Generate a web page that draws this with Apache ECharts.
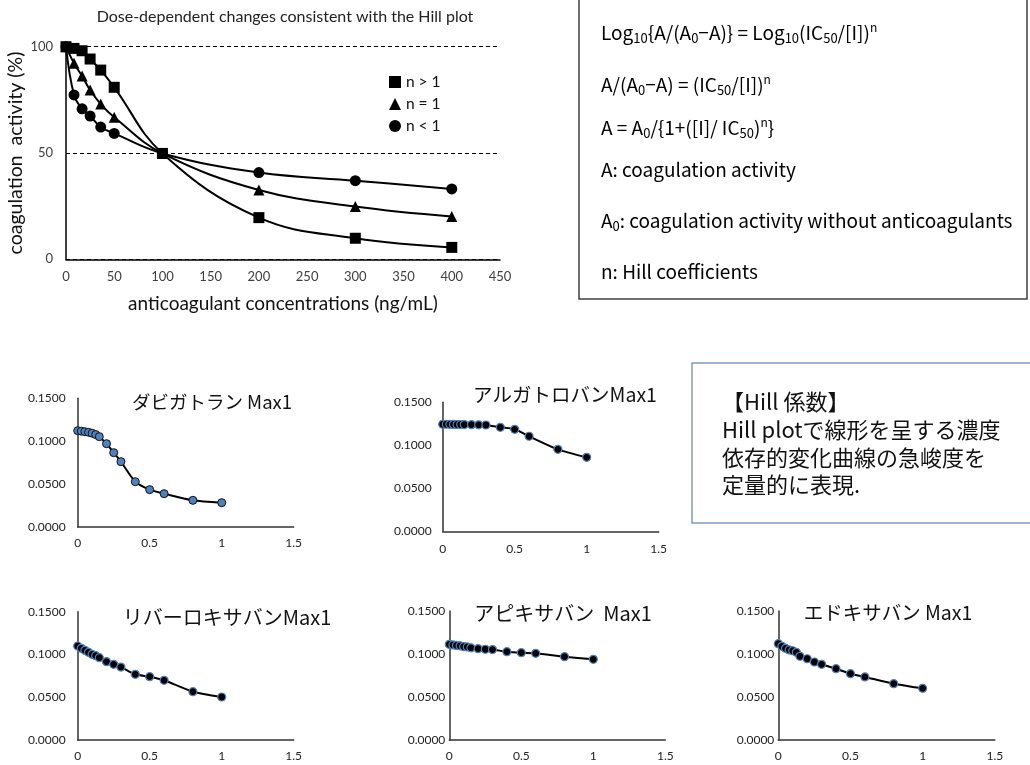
<!DOCTYPE html>
<html>
<head>
<meta charset="utf-8">
<script src="https://cdn.jsdelivr.net/npm/echarts@6/dist/echarts.min.js"></script>
<style>
html,body{margin:0;padding:0;background:#fff;}
#c{width:1030px;height:765px;}
</style>
</head>
<body>
<div id="c"></div>
<script>
// ---- Hill plot (top-left) ----
const hillX = [0, 8.3, 16.7, 25, 36, 50, 100, 200, 300, 400];
const nGt1 = [100, 99.2, 98.1, 94.2, 89.0, 80.9, 49.8, 19.6, 9.9, 5.6];
const nEq1 = [100, 92.2, 86.2, 79.6, 73.0, 66.8, 49.8, 32.6, 24.8, 20.1];
const nLt1 = [100, 77.3, 70.8, 67.4, 62.2, 59.2, 49.8, 40.8, 37.0, 33.1];
const hillNames = ['n > 1', 'n = 1', 'n < 1'];
const hillXTicks = [0, 50, 100, 150, 200, 250, 300, 350, 400, 450];
const hillYTicks = [0, 50, 100];

// ---- drug curves (Max1) ----
const doseX = [0, 0.025, 0.05, 0.075, 0.1, 0.125, 0.15, 0.2, 0.25, 0.3, 0.4, 0.5, 0.6, 0.8, 1];
const dabigatran = [0.1122, 0.1116, 0.1110, 0.1103, 0.1092, 0.1076, 0.1052, 0.0970, 0.0865, 0.0760, 0.0526, 0.0433, 0.0386, 0.0308, 0.0281];
const argatroban = [0.1245, 0.1245, 0.1244, 0.1243, 0.1242, 0.1242, 0.1241, 0.1240, 0.1238, 0.1236, 0.1209, 0.1186, 0.1105, 0.0953, 0.0860];
const rivaroxaban = [0.1099, 0.1072, 0.1048, 0.1025, 0.1002, 0.0986, 0.0962, 0.0916, 0.0885, 0.0853, 0.0768, 0.0740, 0.0698, 0.0565, 0.0503];
const apixaban = [0.1113, 0.1105, 0.1100, 0.1095, 0.1085, 0.1082, 0.1072, 0.1062, 0.1055, 0.1051, 0.1027, 0.1015, 0.1008, 0.0969, 0.0938];
const edoxaban = [0.1120, 0.1089, 0.1066, 0.1047, 0.1038, 0.1020, 0.0973, 0.0945, 0.0907, 0.0880, 0.0829, 0.0771, 0.0733, 0.0655, 0.0601];
const drugTitles = ['ダビガトラン Max1', 'アルガトロバンMax1', 'リバーロキサバンMax1', 'アピキサバン  Max1', 'エドキサバン Max1'];
const doseXTicks = [0, 0.5, 1, 1.5];
const doseYTicks = [0, 0.05, 0.1, 0.15];

const formulaLines = [
  'Log{s|10}{A/(A{s|0}−A)} = Log{s|10}(IC{s|50}/[I]){p|n}',
  'A/(A{s|0}−A) = (IC{s|50}/[I]){p|n}',
  'A = A{s|0}/{1+([I]/ IC{s|50}){p|n}}',
  'A: coagulation activity',
  'A{s|0}: coagulation activity without anticoagulants',
  'n: Hill coefficients'
];
const hillNote = '【Hill 係数】\nHill plotで線形を呈する濃度\n依存的変化曲線の急峻度を\n定量的に表現.';

// ---- layout ----
const LAT = 'Lato, "Liberation Sans", sans-serif';
const JP = '"Noto Sans CJK JP", sans-serif';
const grids = [
  {left: 66, top: 46.7, width: 434, height: 212.6},
  {left: 77.7, top: 398.3, width: 216, height: 128.4},
  {left: 442.7, top: 402.3, width: 216, height: 129},
  {left: 77.7, top: 611.7, width: 216, height: 128.3},
  {left: 449.3, top: 611, width: 216, height: 129},
  {left: 778.3, top: 611, width: 216.5, height: 129}
];
const yLabelMargin = [13, 12, 11, 12, 4, 4];
const xLabelMargin = [11, 10, 12, 10, 10, 10];
const titlePos = [[212, 401.7], [565, 395], [227, 617], [563, 613], [888, 613]];
const titleSize = [18.5, 19.5, 20, 20, 19.5];

const xAxes = [], yAxes = [], series = [];
// main chart axes
xAxes.push({
  type: 'value', gridIndex: 0, min: hillXTicks[0], max: hillXTicks[hillXTicks.length - 1], interval: 50,
  axisLine: {lineStyle: {color: '#000', width: 1.5}}, axisTick: {show: false},
  splitLine: {show: false},
  axisLabel: {margin: xLabelMargin[0], fontSize: 13, color: '#404040', fontFamily: LAT}
});
yAxes.push({
  type: 'value', gridIndex: 0, min: hillYTicks[0], max: hillYTicks[hillYTicks.length - 1], interval: 50,
  axisLine: {show: true, lineStyle: {color: '#000', width: 1.5}}, axisTick: {show: false},
  splitLine: {show: true, lineStyle: {color: '#000', width: 1, type: [4, 3]}},
  axisLabel: {margin: yLabelMargin[0], fontSize: 13, color: '#404040', fontFamily: LAT}
});
const hillData = [nGt1, nEq1, nLt1];
const hillSym = ['rect', 'triangle', 'circle'];
const hillSize = [11, 11, 11];
hillData.forEach((arr, k) => {
  series.push({
    type: 'line', name: hillNames[k], xAxisIndex: 0, yAxisIndex: 0,
    data: hillX.map((x, i) => [x, arr[i]]),
    smooth: 0.4, symbol: hillSym[k], symbolSize: hillSize[k], showSymbol: true,
    lineStyle: {color: '#000', width: 2}, itemStyle: {color: '#000'},
    clip: false, silent: true, animation: false, z: 3
  });
});

const drugs = [dabigatran, argatroban, rivaroxaban, apixaban, edoxaban];
drugs.forEach((arr, k) => {
  const gi = k + 1;
  xAxes.push({
    type: 'value', gridIndex: gi, min: doseXTicks[0], max: doseXTicks[doseXTicks.length - 1], interval: 0.5,
    axisLine: {lineStyle: {color: '#333', width: 1.5}}, axisTick: {show: false}, splitLine: {show: false},
    axisLabel: {margin: xLabelMargin[gi], fontSize: 12, color: '#222', fontFamily: LAT}
  });
  yAxes.push({
    type: 'value', gridIndex: gi, min: doseYTicks[0], max: doseYTicks[doseYTicks.length - 1], interval: 0.05,
    axisLine: {show: true, lineStyle: {color: '#333', width: 1.5}}, axisTick: {show: false}, splitLine: {show: false},
    axisLabel: {margin: yLabelMargin[gi], fontSize: 12, color: '#222', fontFamily: LAT, formatter: v => v.toFixed(4)}
  });
  const blueFill = (k === 0);
  series.push({
    type: 'line', name: drugTitles[k], xAxisIndex: gi, yAxisIndex: gi,
    data: doseX.map((x, i) => [x, arr[i]]),
    smooth: 0.25, symbol: 'circle', symbolSize: 8, showSymbol: true,
    lineStyle: {color: '#000', width: 2},
    itemStyle: blueFill ? {color: '#4f81bd', borderColor: '#111', borderWidth: 1}
                        : {color: '#000', borderColor: '#4f81bd', borderWidth: 1.2},
    clip: false, silent: true, animation: false, z: 3
  });
});

const graphic = [];
// main title and axis names
graphic.push({type: 'text', x: 285, y: 17, style: {text: 'Dose-dependent changes consistent with the Hill plot', font: '16px ' + LAT, fill: '#222', textAlign: 'center', textVerticalAlign: 'middle'}});
graphic.push({type: 'text', x: 283, y: 304, style: {text: 'anticoagulant concentrations (ng/mL)', font: '19px ' + LAT, fill: '#111', textAlign: 'center', textVerticalAlign: 'middle'}});
graphic.push({type: 'text', x: 16, y: 153, rotation: Math.PI / 2, style: {text: 'coagulation  activity (%)', font: '19.5px ' + LAT, fill: '#111', textAlign: 'center', textVerticalAlign: 'middle'}});
// formula box
graphic.push({type: 'rect', shape: {x: 579, y: -5, width: 448, height: 304}, style: {fill: 'none', stroke: '#404040', lineWidth: 1.5}, z: 1});
const fy = [33, 85, 128, 170, 221, 272];
formulaLines.forEach((t, i) => {
  graphic.push({type: 'text', x: 601, y: fy[i], style: {
    text: t, fontFamily: JP, fontSize: 19, fill: '#000', lineHeight: 24,
    textAlign: 'left', textVerticalAlign: 'middle',
    rich: {
      s: {fontSize: 13, fontFamily: JP, fill: '#000', verticalAlign: 'bottom', lineHeight: 13},
      p: {fontSize: 12, fontFamily: JP, fill: '#000', verticalAlign: 'top', lineHeight: 12}
    }
  }});
});
// Hill note box
graphic.push({type: 'rect', shape: {x: 692, y: 363, width: 345, height: 160}, style: {fill: 'none', stroke: '#7f9cc6', lineWidth: 1.5}, z: 1});
graphic.push({type: 'text', x: 722, y: 388, style: {text: hillNote, font: '22px ' + JP, fill: '#111', lineHeight: 27.7, textAlign: 'left', textVerticalAlign: 'top'}});
// drug titles
drugTitles.forEach((t, k) => {
  graphic.push({type: 'text', x: titlePos[k][0], y: titlePos[k][1], style: {text: t, font: titleSize[k] + 'px ' + JP, fill: '#111', textAlign: 'center', textVerticalAlign: 'middle'}});
});

const chart = echarts.init(document.getElementById('c'), null, {renderer: 'canvas'});
chart.setOption({
  animation: false,
  backgroundColor: '#fff',
  grid: grids,
  xAxis: xAxes,
  yAxis: yAxes,
  series: series,
  legend: {
    orient: 'vertical', left: 384, top: 69, itemWidth: 12, itemHeight: 12, itemGap: 6,
    textStyle: {fontSize: 15.5, color: '#111', fontFamily: LAT},
    data: [{name: hillNames[0], icon: 'rect'}, {name: hillNames[1], icon: 'triangle'}, {name: hillNames[2], icon: 'circle'}],
    itemStyle: {color: '#000'}, selectedMode: false
  },
  graphic: graphic
});
</script>
</body>
</html>
